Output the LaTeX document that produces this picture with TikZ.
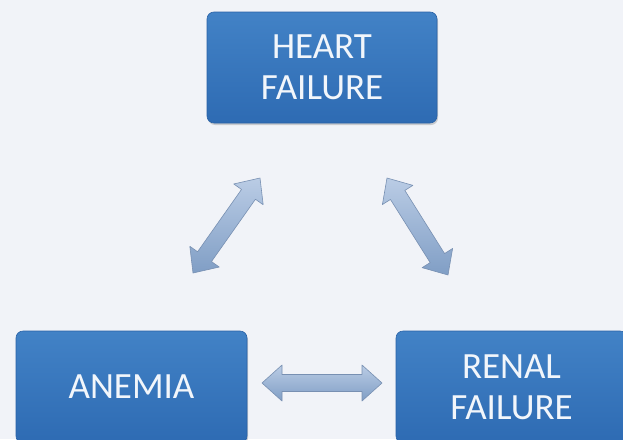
\documentclass[tikz,border=0pt]{standalone}
\usepackage{fontspec}
\setmainfont{Carlito}
\usetikzlibrary{calc,shadows}
\definecolor{bg}{HTML}{F1F3F8}
\definecolor{boxtop}{HTML}{4282C6}
\definecolor{boxbot}{HTML}{2E6BB3}
\definecolor{boxline}{HTML}{2A62A6}
\definecolor{arrtop}{HTML}{BACCE5}
\definecolor{arrbot}{HTML}{809EC5}
\definecolor{arrline}{HTML}{7890B2}
\definecolor{txt}{HTML}{F2F6FB}
\tikzset{
  box/.style={rectangle, rounded corners=7pt, top color=boxtop, bottom color=boxbot,
    draw=boxline, line width=0.6pt, text=txt, align=center,
    font=\fontsize{37}{41}\selectfont,
    drop shadow={shadow xshift=1pt, shadow yshift=-2pt, opacity=0.35, fill=gray}},
  arrowfill/.style={top color=arrtop, bottom color=arrbot, draw=arrline, line width=0.6pt, line join=round}
}
\newcommand\blockarrow[2]{%
  \path (#1) coordinate (p0) (#2) coordinate (q0);
  \path ($(p0)!20pt!(q0)$) coordinate (p1) ($(q0)!20pt!(p0)$) coordinate (q1);
  \path[arrowfill] (p0) -- ($(p1)!18pt!90:(q0)$) -- ($(p1)!8.5pt!90:(q0)$)
    -- ($(q1)!8.5pt!-90:(p0)$) -- ($(q1)!18pt!-90:(p0)$) -- (q0)
    -- ($(q1)!18pt!90:(p0)$) -- ($(q1)!8.5pt!90:(p0)$)
    -- ($(p1)!8.5pt!-90:(q0)$) -- ($(p1)!18pt!-90:(q0)$) -- cycle;
}
\begin{document}
\begin{tikzpicture}[x=1pt,y=-1pt]
\useasboundingbox (0,0) rectangle (623,439);
\clip (0,0) rectangle (623,439);
\fill[bg] (0,0) rectangle (623,439);
\node[box, minimum width=230pt, minimum height=111pt] (heart) at (322,67.5) {HEART\\FAILURE};
\node[box, minimum width=231pt, minimum height=112pt] (anemia) at (131.5,387) {ANEMIA};
\node[box, minimum width=231pt, minimum height=112pt] (renal) at (511.5,387) {RENAL\\FAILURE};
\coordinate (l1) at (193,273);
\coordinate (l2) at (260,178);
\coordinate (r1) at (387,178);
\coordinate (r2) at (448,275);
\coordinate (h1) at (262,383);
\coordinate (h2) at (382,383);
\blockarrow{l1}{l2}
\blockarrow{r1}{r2}
\blockarrow{h1}{h2}
\end{tikzpicture}
\end{document}
